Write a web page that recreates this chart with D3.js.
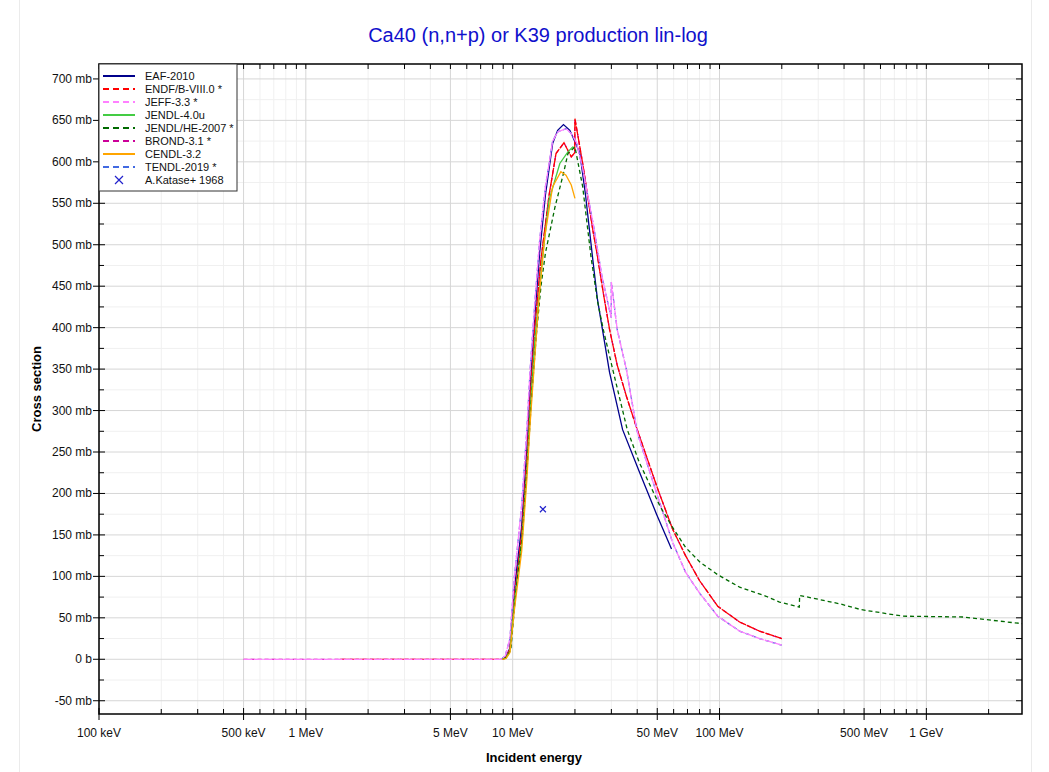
<!DOCTYPE html>
<html>
<head>
<meta charset="utf-8">
<script src="https://cdn.jsdelivr.net/npm/d3@7"></script>
<style>
  body { margin: 0; background: #fff; }
  text { font-family: "Liberation Sans", Arial, sans-serif; }
</style>
</head>
<body>
<div id="chart"></div>
<script>
// energies in MeV, cross sections in mb
const eaf2010 = [[8.9,0],[9.3,3],[9.7,14],[10.2,85],[11.05,160],[11.7,253],[12.15,330],[12.8,414],[13.5,490],[14.4,560],[15.6,622],[16.5,638],[17.6,645],[18.9,638],[21.1,611],[22.5,560],[24.4,482],[25.7,434],[29.4,346],[34,277],[41,226],[49.6,175],[58.6,133]];
const endf80 = [[1.46,0],[8.9,0],[9.3,3],[9.7,12],[10.2,75],[11.05,150],[11.7,240],[12.15,315],[12.8,400],[13.7,482],[15.0,560],[16.2,610],[17.7,623],[19.2,606],[19.95,611],[20,652],[21.8,598],[24.4,518],[25.7,486],[27.5,440],[29.4,398],[32,355],[35.5,317],[40,277],[50,207],[59.3,157],[68.5,125],[80,95],[98,64],[125,45],[156,34],[200,25]];
const jeff33 = [[0.5,0],[8.8,0],[9.2,4],[9.7,25],[10.2,100],[11.05,185],[11.7,275],[12.15,350],[12.8,430],[13.5,505],[14.4,570],[15.6,625],[16.5,636],[18.1,640],[19.2,634],[20.3,624],[21.8,592],[24.8,518],[27,462],[29.95,412],[30,455],[32,398],[35.5,349],[39.8,277],[41,265],[50,198],[59.3,141],[68.5,105],[80,80],[98,52],[125,34],[156,25],[200,17]];
const jendl40u = [[8.9,0],[9.3,2],[9.7,10],[10.2,70],[11.05,140],[11.7,228],[12.15,300],[12.8,385],[13.9,482],[15.0,554],[16.9,598],[18.5,612],[19.5,618],[20,617]];
const jendlHe = [[9.0,0],[9.4,3],[9.8,12],[10.3,75],[11.15,150],[11.8,238],[12.3,310],[13.0,390],[13.7,450],[14.4,490],[16.0,545],[17.6,586],[18.5,610],[20,618],[21.8,570],[23.9,486],[25.7,432],[27.4,398],[30.5,349],[35.8,277],[41,237],[51.7,184],[59,160],[68.5,135],[80.6,117],[98,102],[125,87],[168,76],[195,69],[243,63],[244,77],[380,67],[481,60],[770,52],[1500,51],[2900,43]];
const brond31 = [[0.5,0],[8.9,0],[9.3,3],[9.7,12],[10.2,75],[11.05,150],[11.7,240],[12.15,315],[12.8,400],[13.7,482],[15.0,560],[16.2,610],[17.7,623],[19.2,606],[19.95,611],[20,652],[21.8,598],[24.4,518],[25.7,486],[27.5,440],[29.4,398],[32,355],[35.5,317],[40,277],[50,207],[59.3,157],[68.5,125],[80,95],[98,64],[125,45],[156,34],[200,25]];
const cendl32 = [[8.9,0],[9.3,1],[9.7,8],[10.2,60],[11.05,130],[11.7,215],[12.15,285],[12.8,365],[13.4,435],[14.3,510],[15.6,570],[17.1,588],[18.1,584],[19.2,572],[20,556]];
const tendl2019 = [[8.8,0],[9.2,4],[9.7,25],[10.2,100],[11.05,185],[11.7,275],[12.15,350],[12.8,430],[13.5,505],[14.4,570],[15.6,625],[16.5,636],[18.1,640],[19.2,634],[20.3,624],[21.8,592],[24.8,518],[27,462],[29.95,412],[30,455],[32,398],[35.5,349],[39.8,277],[41,265],[50,198],[59.3,141],[68.5,105],[80,80],[98,52],[125,34],[156,25],[200,17]];
const katase1968 = [[14.0,181]];

const seriesNames = ["EAF-2010","ENDF/B-VIII.0 *","JEFF-3.3 *","JENDL-4.0u","JENDL/HE-2007 *","BROND-3.1 *","CENDL-3.2","TENDL-2019 *"];
const seriesData = [eaf2010, endf80, jeff33, jendl40u, jendlHe, brond31, cendl32, tendl2019];
const seriesColors = ["#00008b","#ff0000","#ff80ff","#44cc44","#006a00","#cc0099","#ffa500","#4169e1"];
const seriesDashed = [false, true, true, false, true, true, false, true];
const expName = "A.Katase+ 1968";

const xMajor = [0.1, 0.5, 1, 5, 10, 50, 100, 500, 1000];
const xMajorLabels = ["100 keV","500 keV","1 MeV","5 MeV","10 MeV","50 MeV","100 MeV","500 MeV","1 GeV"];
const yMajor = [-50,0,50,100,150,200,250,300,350,400,450,500,550,600,650,700];
const yMajorLabels = ["-50 mb","0 b","50 mb","100 mb","150 mb","200 mb","250 mb","300 mb","350 mb","400 mb","450 mb","500 mb","550 mb","600 mb","650 mb","700 mb"];

const W = 1049, H = 772;
const margin = { top: 64, right: 27, bottom: 58, left: 99 };

const svg = d3.select("#chart").append("svg")
  .attr("width", W).attr("height", H);

// faint outer frame
svg.append("rect")
  .attr("x", 19.5).attr("y", -2).attr("width", 1012).attr("height", H + 4)
  .attr("fill", "none").attr("stroke", "#ebebeb");

const x = d3.scaleLog().domain([0.1, 2900]).range([margin.left, W - margin.right]);
const y = d3.scaleLinear().domain([-66, 718]).range([H - margin.bottom, margin.top]);

// minor x values: every 1..9 multiple not already major
const xMinor = [];
[0.1, 1, 10, 100, 1000].forEach(dec => {
  for (let k = 2; k <= 9; k++) {
    const v = dec * k;
    if (v < 2900 && k !== 5) xMinor.push(v);
  }
});
const yMinor = d3.range(-50, 701, 50).map(v => v + 25).filter(v => v < 718);

// grid
const grid = svg.append("g");
grid.selectAll(".xmin").data(xMinor).join("line")
  .attr("x1", d => x(d)).attr("x2", d => x(d))
  .attr("y1", y.range()[1]).attr("y2", y.range()[0])
  .attr("stroke", "#f0f0f0");
grid.selectAll(".ymin").data(yMinor).join("line")
  .attr("x1", x.range()[0]).attr("x2", x.range()[1])
  .attr("y1", d => y(d)).attr("y2", d => y(d))
  .attr("stroke", "#f0f0f0");
grid.selectAll(".xmaj").data(xMajor).join("line")
  .attr("x1", d => x(d)).attr("x2", d => x(d))
  .attr("y1", y.range()[1]).attr("y2", y.range()[0])
  .attr("stroke", "#d6d6d6");
grid.selectAll(".ymaj").data(yMajor).join("line")
  .attr("x1", x.range()[0]).attr("x2", x.range()[1])
  .attr("y1", d => y(d)).attr("y2", d => y(d))
  .attr("stroke", "#d6d6d6");

// curves
svg.append("clipPath").attr("id", "clip")
  .append("rect")
  .attr("x", x.range()[0]).attr("y", y.range()[1])
  .attr("width", x.range()[1] - x.range()[0])
  .attr("height", y.range()[0] - y.range()[1]);

const line = d3.line().x(d => x(d[0])).y(d => y(d[1]));
const plot = svg.append("g").attr("clip-path", "url(#clip)");
// draw order: the overlapping pairs put the paler copy underneath
const drawOrder = [0, 5, 1, 7, 2, 3, 4, 6];
drawOrder.forEach(i => {
  let dash = null;
  if (seriesDashed[i]) dash = (i === 1 || i === 2) ? "9,1" : "4,3";
  plot.append("path")
    .datum(seriesData[i])
    .attr("fill", "none")
    .attr("stroke", seriesColors[i])
    .attr("stroke-width", 1.3)
    .attr("stroke-dasharray", dash)
    .attr("d", line);
});

// experimental point
plot.selectAll(".exp").data(katase1968).join("path")
  .attr("transform", d => `translate(${x(d[0])},${y(d[1])})`)
  .attr("d", "M-3,-3L3,3M-3,3L3,-3")
  .attr("stroke", "#2222cc").attr("stroke-width", 1.2);

// axes frame
const x0 = x.range()[0], x1 = x.range()[1], y0 = y.range()[0], y1 = y.range()[1];
svg.append("rect")
  .attr("x", x0).attr("y", y1).attr("width", x1 - x0).attr("height", y0 - y1)
  .attr("fill", "none").attr("stroke", "#000").attr("stroke-width", 1.5);

const ticks = svg.append("g").attr("stroke", "#000").attr("stroke-width", 1);
// x ticks bottom and top
ticks.selectAll(".xt").data(xMajor).join("line")
  .attr("x1", d => x(d)).attr("x2", d => x(d)).attr("y1", y0 - 6).attr("y2", y0 + 6);
ticks.selectAll(".xtm").data(xMinor).join("line")
  .attr("x1", d => x(d)).attr("x2", d => x(d)).attr("y1", y0 - 5).attr("y2", y0);
ticks.selectAll(".xtt").data(xMajor.concat(xMinor)).join("line")
  .attr("x1", d => x(d)).attr("x2", d => x(d)).attr("y1", y1).attr("y2", y1 + 5);
// y ticks left and right
ticks.selectAll(".yt").data(yMajor).join("line")
  .attr("x1", x0 - 6).attr("x2", x0 + 6).attr("y1", d => y(d)).attr("y2", d => y(d));
ticks.selectAll(".ytm").data(yMinor).join("line")
  .attr("x1", x0).attr("x2", x0 + 5).attr("y1", d => y(d)).attr("y2", d => y(d));
ticks.selectAll(".ytr").data(yMajor.concat(yMinor)).join("line")
  .attr("x1", x1 - 6).attr("x2", x1).attr("y1", d => y(d)).attr("y2", d => y(d));

// tick labels
svg.append("g").selectAll("text").data(xMajor).join("text")
  .attr("x", d => x(d)).attr("y", y0 + 23)
  .attr("text-anchor", "middle").attr("font-size", 12).attr("fill", "#111")
  .text((d, i) => xMajorLabels[i]);
svg.append("g").selectAll("text").data(yMajor).join("text")
  .attr("x", x0 - 7).attr("y", d => y(d) + 4)
  .attr("text-anchor", "end").attr("font-size", 12).attr("fill", "#111")
  .text((d, i) => yMajorLabels[i]);

// titles
svg.append("text").attr("x", 538).attr("y", 42)
  .attr("text-anchor", "middle").attr("font-size", 20).attr("fill", "#1010cc")
  .text("Ca40 (n,n+p) or K39 production lin-log");
svg.append("text").attr("x", 534).attr("y", 762)
  .attr("text-anchor", "middle").attr("font-size", 13).attr("font-weight", "bold")
  .text("Incident energy");
svg.append("text")
  .attr("transform", `translate(41,${(y0 + y1) / 2}) rotate(-90)`)
  .attr("text-anchor", "middle").attr("font-size", 13).attr("font-weight", "bold")
  .text("Cross section");

// legend
const lg = svg.append("g");
lg.append("rect").attr("x", x0).attr("y", y1).attr("width", 138).attr("height", 127)
  .attr("fill", "#fff").attr("stroke", "#333").attr("stroke-width", 1);
seriesNames.forEach((name, i) => {
  const ly = y1 + 12 + i * 13;
  lg.append("line")
    .attr("x1", x0 + 4).attr("x2", x0 + 36).attr("y1", ly).attr("y2", ly)
    .attr("stroke", seriesColors[i]).attr("stroke-width", 2)
    .attr("stroke-dasharray", seriesDashed[i] ? "6,4" : null);
  lg.append("text").attr("x", x0 + 46).attr("y", ly + 4)
    .attr("font-size", 11).attr("fill", "#111").text(name);
});
const ey = y1 + 12 + 8 * 13;
lg.append("path")
  .attr("transform", `translate(${x0 + 20},${ey})`)
  .attr("d", "M-4,-4L4,4M-4,4L4,-4")
  .attr("stroke", "#2222cc").attr("stroke-width", 1.2);
lg.append("text").attr("x", x0 + 46).attr("y", ey + 4)
  .attr("font-size", 11).attr("fill", "#111").text(expName);
</script>
</body>
</html>
